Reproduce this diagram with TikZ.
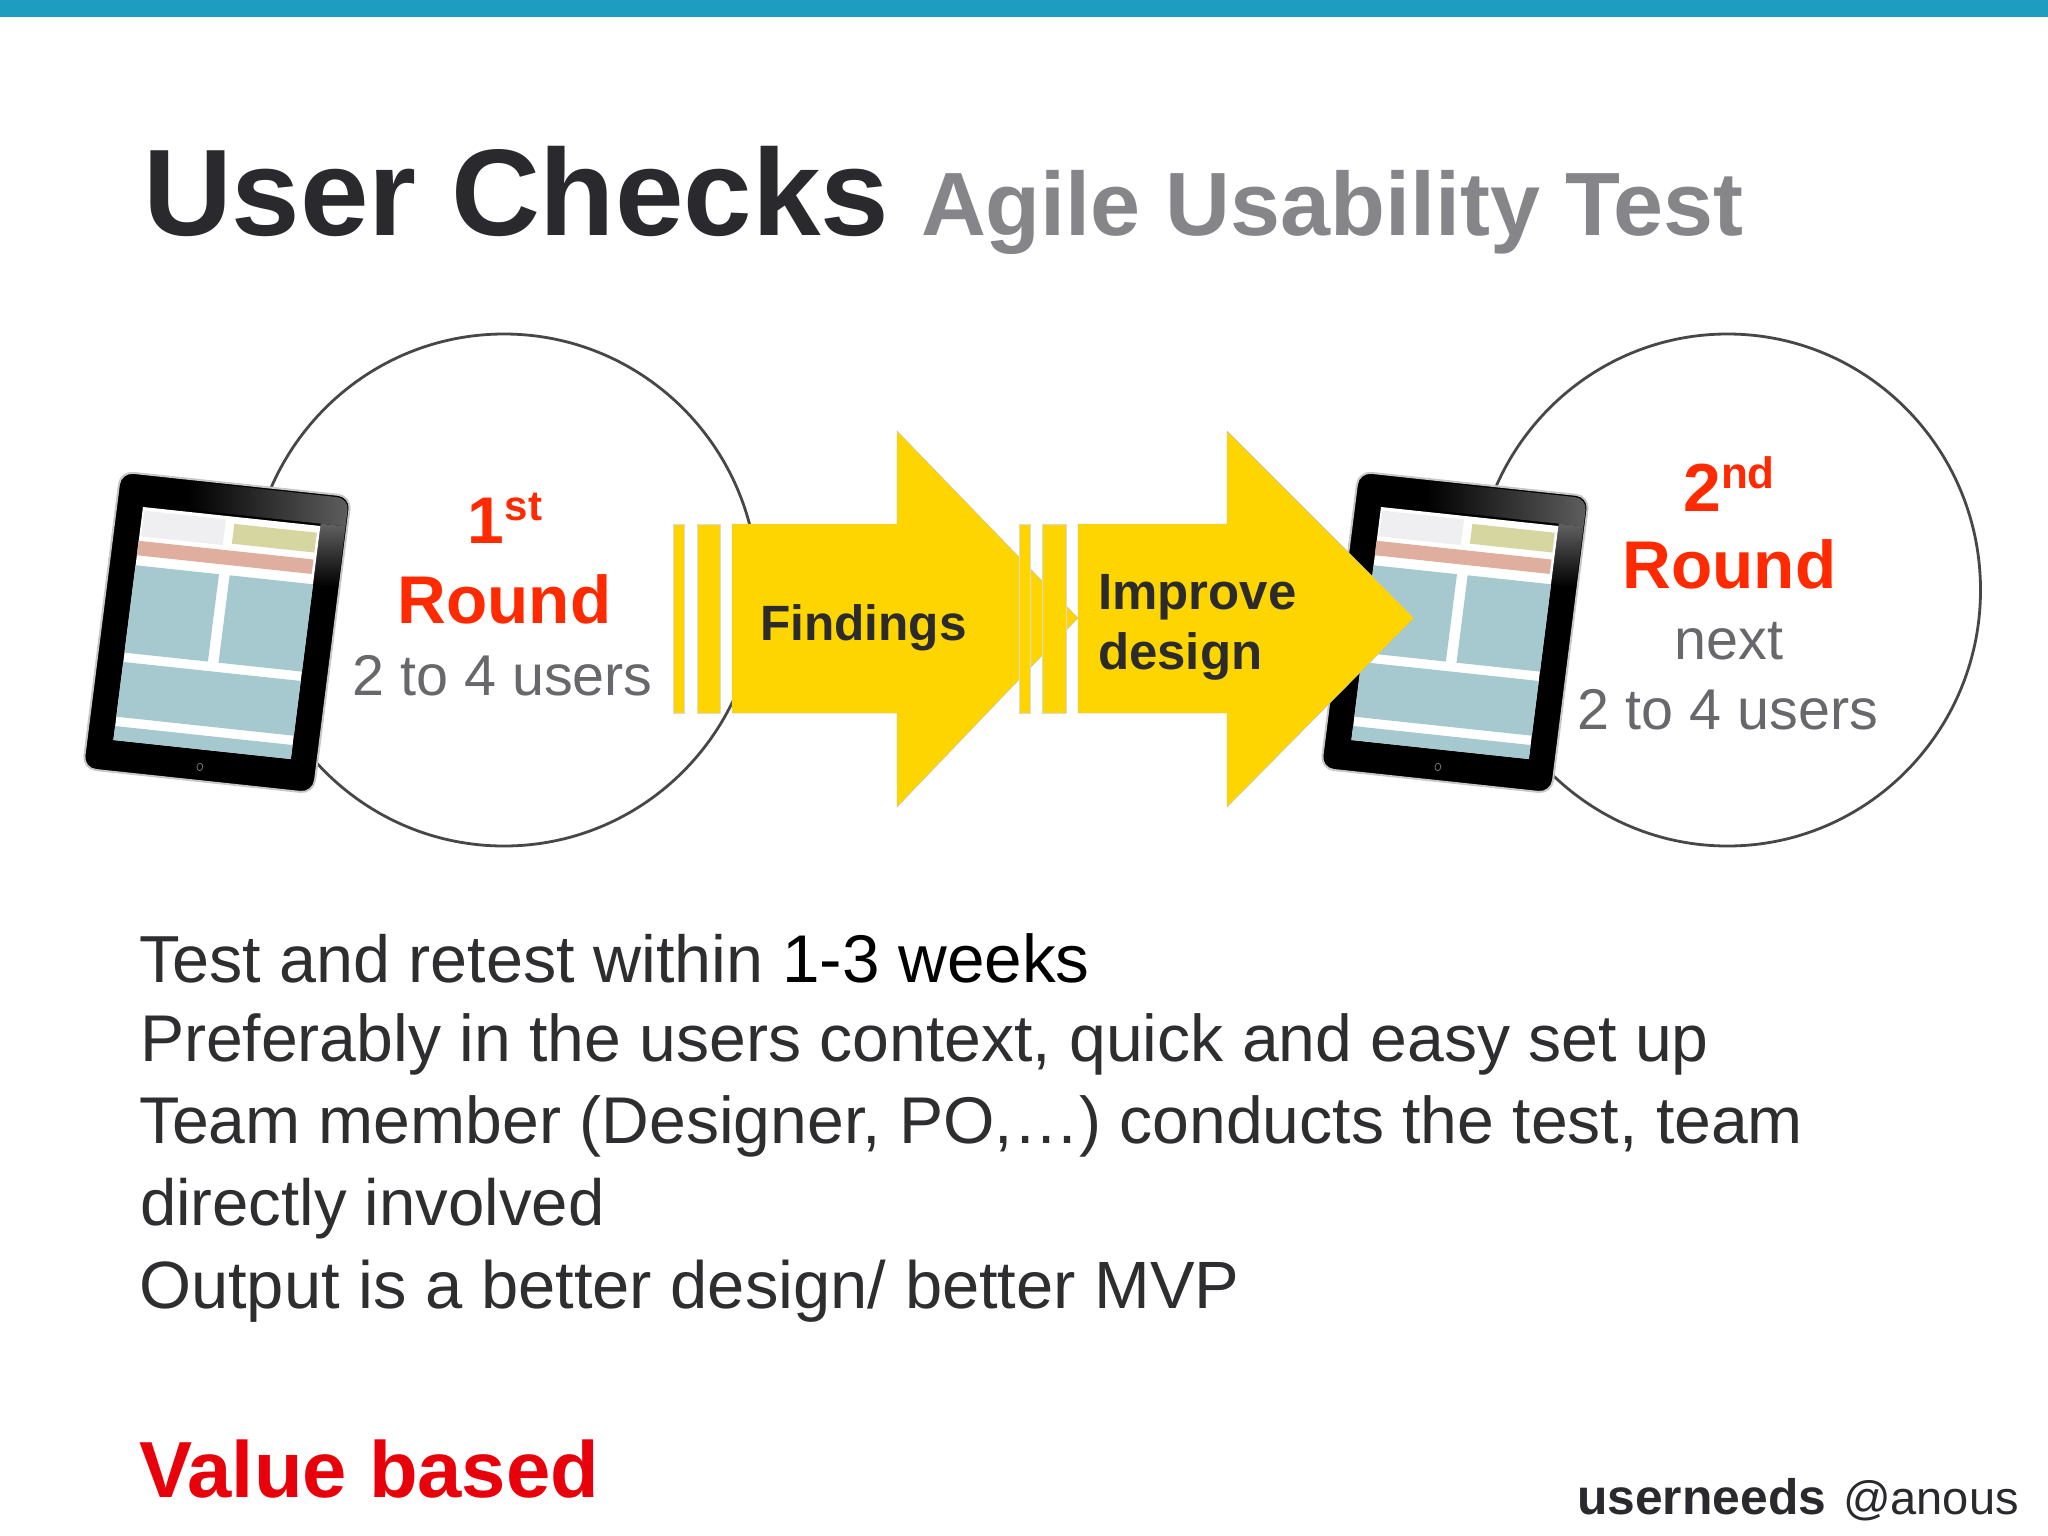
\documentclass[tikz,border=0pt]{standalone}
\usetikzlibrary{shapes.geometric}
\usepackage{fontspec}
\setmainfont{Liberation Sans}
\definecolor{barblue}{HTML}{1F9DC1}
\definecolor{titledark}{HTML}{2A2A2E}
\definecolor{titlegray}{HTML}{86868A}
\definecolor{roundred}{HTML}{FF2A00}
\definecolor{usergray}{HTML}{68686C}
\definecolor{arrowyellow}{HTML}{FFD500}
\definecolor{labeldark}{HTML}{2B2B2B}
\definecolor{bodytext}{HTML}{2E2E30}
\definecolor{valuered}{HTML}{E8000B}
\definecolor{tealbox}{HTML}{A5C9CF}
\definecolor{salmonbox}{HTML}{E0AE9E}
\definecolor{olivebox}{HTML}{D6D6A0}
\definecolor{palebox}{HTML}{EFEFF1}
\newcommand{\fsz}[1]{\fontsize{#1pt}{#1pt}\selectfont}
\tikzset{
  txt/.style={inner sep=0pt,outer sep=0pt,anchor=base},
  txtw/.style={inner sep=0pt,outer sep=0pt,anchor=base west},
  ringc/.style={ellipse,draw=black!72,line width=2.8pt,minimum height=512pt,inner sep=0pt,fill=white},
  redb/.style={txt,text=roundred,font=\bfseries\fsz{67.5}},
  graytxt/.style={txt,text=usergray,font=\fsz{57.5}},
  bodyl/.style={txtw,text=bodytext},
  yarrow/.style={fill=arrowyellow,draw=black!25,line width=.4pt},
  ystripe/.style={fill=arrowyellow,draw=black!15,line width=.4pt},
}
\newcommand{\tablet}[2]{%
  \begin{scope}[shift={(#1,#2)},x={(177.4pt,-19pt)},y={(-29.6pt,-233pt)}]
    \draw[rounded corners=13pt,fill=black,draw=black!22,line width=2pt] (-.15,-.14) -- (1.15,-.14) -- (1.15,1.135) -- (-.15,1.135) -- cycle;
    \begin{scope}
      \clip[rounded corners=12pt] (-.14,-.13) -- (1.14,-.13) -- (1.14,1.125) -- (-.14,1.125) -- cycle;
      \shade[left color=black,right color=black!62] (.25,-.15) -- (1.16,-.15) -- (1.16,-.01) -- (.25,-.01) -- cycle;
      \shade[top color=black!62,bottom color=black] (1,-.01) -- (1.16,-.01) -- (1.16,.25) -- (1,.25) -- cycle;
    \end{scope}
    \fill[white] (0,0) -- (1,0) -- (1,1) -- (0,1) -- cycle;
    \fill[palebox] (.01,.015) -- (.47,.015) -- (.47,.125) -- (.01,.125) -- cycle;
    \fill[olivebox] (.52,.03) -- (.985,.03) -- (.985,.115) -- (.52,.115) -- cycle;
    \fill[salmonbox] (0,.145) -- (.985,.145) -- (.985,.207) -- (0,.207) -- cycle;
    \fill[tealbox] (0,.25) -- (.47,.25) -- (.47,.625) -- (0,.625) -- cycle;
    \fill[tealbox] (.53,.25) -- (1,.25) -- (1,.625) -- (.53,.625) -- cycle;
    \fill[tealbox] (0,.665) -- (1,.665) -- (1,.9) -- (0,.9) -- cycle;
    \fill[tealbox] (0,.94) -- (1,.94) -- (1,1) -- (0,1) -- cycle;
    \draw[black!55,line width=.8pt] (.5,1.075) circle[radius=.016];
  \end{scope}}
\begin{document}
\begin{tikzpicture}[x=1pt,y=-1pt]
\useasboundingbox (0,0) rectangle (2048,1536);
\fill[white] (0,0) rectangle (2048,1536);
\fill[barblue] (0,0) rectangle (2048,17);
% title
\node[txtw,text=titledark,font=\bfseries\fsz{123.2}] (title) at (143,235) {User Checks};
\node[txtw,text=titlegray,font=\bfseries\fsz{89.9}] (subtitle) at (921,235) {Agile Usability Test};
% rings
\node[ringc,minimum width=508pt] (ringa) at (504,590) {};
\node[ringc,minimum width=506pt] (ringb) at (1727.5,590) {};
\tablet{143}{507}
\tablet{1381}{507}
% arrows
\path[ystripe] (672.8,524) rectangle (684.5,713);
\path[ystripe] (696.7,524) rectangle (720.2,713);
\path[yarrow] (732,524) -- (897,524) -- (897,431) -- (1078,618) -- (897,807) -- (897,713) -- (732,713) -- cycle;
\path[ystripe] (1018.7,524) rectangle (1030.4,713);
\path[ystripe] (1042,524) rectangle (1066,713);
\path[yarrow] (1078,524) -- (1227,524) -- (1227,431) -- (1414,618) -- (1227,807) -- (1227,713) -- (1078,713) -- cycle;
% ring labels
\node[redb] (firstn) at (505,543) {\fsz{66}1\raisebox{23pt}{\fsz{42}st}};
\node[redb] (rounda) at (504.5,623) {Round};
\node[graytxt] (usersa) at (502.5,695) {2 to 4 users};
\node[redb] (secondn) at (1729,511) {\fsz{68}2\raisebox{23pt}{\fsz{44}nd}};
\node[redb] (roundb) at (1729.5,588) {Round};
\node[graytxt] (nextl) at (1729,659) {next};
\node[graytxt] (usersb) at (1728,729) {2 to 4 users};
% arrow labels
\node[txtw,text=labeldark,font=\bfseries\fsz{49.6}] (findings) at (760,640) {Findings};
\node[txtw,text=labeldark,font=\bfseries\fsz{51}] (improve) at (1098,609) {Improve};
\node[txtw,text=labeldark,font=\bfseries\fsz{51}] (designl) at (1098,669) {design};
% body
\node[bodyl,font=\fsz{66.5}] (linea) at (139,982) {Test and retest within {\fsz{67.5}\textcolor{black}{1-3 weeks}}};
\node[bodyl,font=\fsz{66.1}] (lineb) at (140,1061) {Preferably in the users context, quick and easy set up};
\node[bodyl,font=\fsz{66.1}] (linec) at (139,1143) {Team member (Designer, PO,…) conducts the test, team};
\node[bodyl,font=\fsz{65.3}] (lined) at (140,1225) {directly involved};
\node[bodyl,font=\fsz{66.9}] (linee) at (139,1308) {Output is a better design/ better MVP};
\node[txtw,text=valuered,font=\bfseries\fsz{79.6}] (value) at (139,1497) {Value based};
\node[txtw,text=titledark,font=\bfseries\fsz{49.8}] (brand) at (1577,1514) {userneeds};
\node[txtw,text=titledark,font=\fsz{47}] (handle) at (1843,1514) {@anous};
\end{tikzpicture}
\end{document}
